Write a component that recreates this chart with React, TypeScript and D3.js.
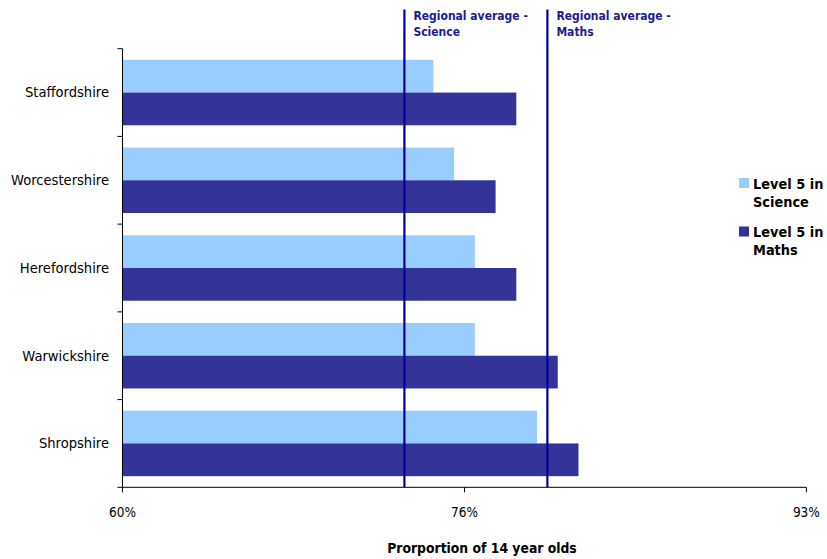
import React from "react";
import * as d3 from "d3";

// County results for 14 year olds (percent reaching level 5)
const counties = ["Staffordshire", "Worcestershire", "Herefordshire", "Warwickshire", "Shropshire"];
const seriesNames = ["Level 5 in Science", "Level 5 in Maths"];
const scienceValues = [75, 76, 77, 77, 80];
const mathsValues = [79, 78, 79, 81, 82];
const regionalAverages = [
  { label: ["Regional average -", "Science"], value: 73.6 },
  { label: ["Regional average -", "Maths"], value: 80.5 },
];
const xTicks = [60, 76.5, 93];
const xTickLabels = ["60%", "76%", "93%"];
const legendLines = [["Level 5 in", "Science"], ["Level 5 in", "Maths"]];

const WIDTH = 827;
const HEIGHT = 559;
const FONT = "Tahoma, 'DejaVu Sans Condensed', 'DejaVu Sans', sans-serif";
const COLORS = ["#99ccff", "#333399"];
const LINE_COLOR = "#000099";
const LABEL_COLOR = "#1c1c8c";

const plot = { left: 122.6, right: 806.4, top: 48.7, bottom: 487.3 };

export default function App() {
  const x = d3.scaleLinear().domain([60, 93]).range([plot.left, plot.right]);
  const y = d3.scaleBand<string>().domain(counties).range([plot.top, plot.bottom]);
  const sub = d3
    .scaleBand<string>()
    .domain(seriesNames)
    .range([0, y.bandwidth()])
    .paddingInner(0)
    .paddingOuter(0.34);
  const values = [scienceValues, mathsValues];
  const yTickPositions = [...counties.map((c) => y(c) as number), plot.bottom];
  const axisX = Math.round(plot.left) - 0.5;

  return (
    <svg
      width={WIDTH}
      height={HEIGHT}
      style={{ position: "absolute", left: 0, top: 0, background: "#fff" }}
      fontFamily={FONT}
    >
      {/* bars */}
      {counties.map((c, i) => (
        <g key={c} transform={`translate(0,${y(c)})`}>
          {seriesNames.map((s, j) => (
            <rect
              key={s}
              x={x(60)}
              y={sub(s)}
              width={x(values[j][i]) - x(60)}
              height={sub.bandwidth()}
              fill={COLORS[j]}
            />
          ))}
        </g>
      ))}

      {/* regional average lines */}
      {regionalAverages.map((r) => (
        <g key={r.label[1]}>
          <line
            x1={x(r.value)}
            x2={x(r.value)}
            y1={9.5}
            y2={plot.bottom}
            stroke={LINE_COLOR}
            strokeWidth={2.2}
          />
          <text
            x={x(r.value) + 9}
            y={20}
            fontSize={12}
            fontWeight="bold"
            fill={LABEL_COLOR}
          >
            {r.label.map((t, k) => (
              <tspan key={k} x={x(r.value) + 9} dy={k === 0 ? 0 : 16}>
                {t}
              </tspan>
            ))}
          </text>
        </g>
      ))}

      {/* y axis */}
      <line x1={axisX} x2={axisX} y1={plot.top} y2={plot.bottom} stroke="#000" />
      {yTickPositions.map((p, i) => (
        <line key={i} x1={axisX - 5} x2={axisX} y1={p} y2={p} stroke="#000" />
      ))}
      {counties.map((c) => (
        <text
          key={c}
          x={109}
          y={(y(c) as number) + y.bandwidth() / 2}
          dy="0.33em"
          textAnchor="end"
          fontSize={14.6}
          fill="#000"
        >
          {c}
        </text>
      ))}

      {/* x axis */}
      <line x1={axisX} x2={plot.right} y1={plot.bottom} y2={plot.bottom} stroke="#000" />
      {xTicks.map((t, i) => (
        <g key={t}>
          <line
            x1={i === 0 ? axisX : x(t)}
            x2={i === 0 ? axisX : x(t)}
            y1={plot.bottom}
            y2={plot.bottom + 5}
            stroke="#000"
          />
          <text x={x(t)} y={517} textAnchor="middle" fontSize={13.5} fill="#000">
            {xTickLabels[i]}
          </text>
        </g>
      ))}
      <text x={482} y={553} textAnchor="middle" fontSize={13.8} fontWeight="bold" fill="#000">
        Prorportion of 14 year olds
      </text>

      {/* legend */}
      {legendLines.map((lines, i) => (
        <g key={i} transform={`translate(739,${178 + i * 48.5})`}>
          <rect x={0} y={0} width={10} height={10} fill={COLORS[i]} />
          <text x={14} y={10.5} fontSize={14.4} fontWeight="bold" fill="#000">
            {lines.map((t, k) => (
              <tspan key={k} x={14} dy={k === 0 ? 0 : 18}>
                {t}
              </tspan>
            ))}
          </text>
        </g>
      ))}
    </svg>
  );
}
